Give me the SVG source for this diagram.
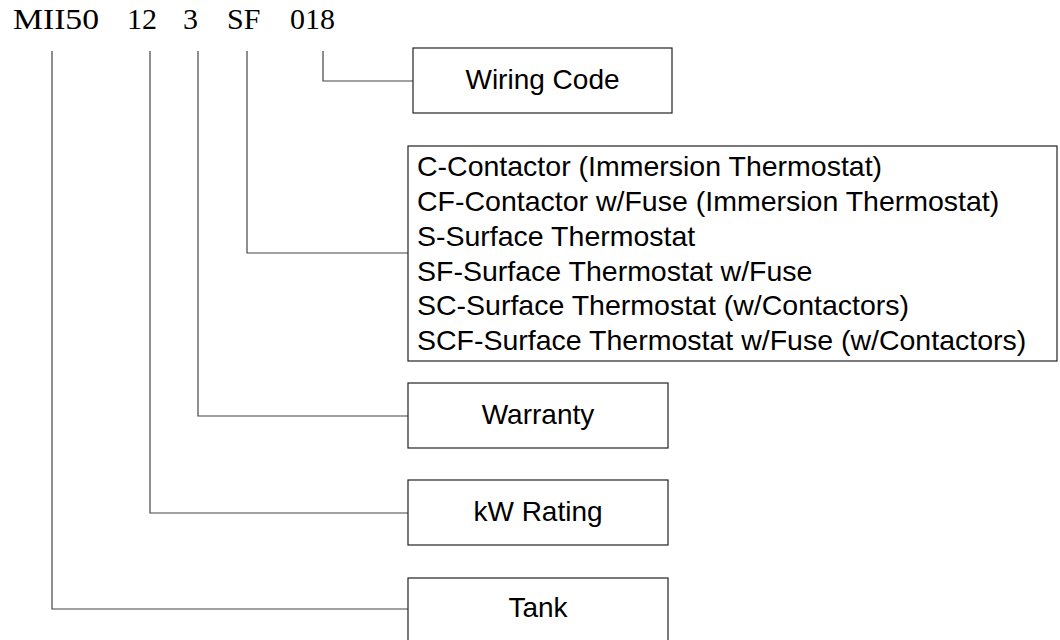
<svg xmlns="http://www.w3.org/2000/svg" width="1060" height="640" viewBox="0 0 1060 640">
  <style>
    .code { font-family: "Liberation Serif", "Times New Roman", serif; font-size: 30px; fill: #000; }
    .box { fill: #fff; stroke: #222; stroke-width: 1.2; }
    .lbl { font-family: "Liberation Sans", Arial, sans-serif; font-size: 28px; fill: #000; text-anchor: middle; }
    .item { font-family: "Liberation Sans", Arial, sans-serif; font-size: 28.5px; fill: #000; }
    .conn { fill: none; stroke: #444; stroke-width: 1.2; }
  </style>
  <rect width="1060" height="640" fill="#fff"/>
  <g id="code">
    <text class="code" x="13" y="29" textLength="86" lengthAdjust="spacingAndGlyphs">MII50</text>
    <text class="code" x="127" y="29">12</text>
    <text class="code" x="183" y="29">3</text>
    <text class="code" x="227" y="29">SF</text>
    <text class="code" x="290" y="29">018</text>
  </g>
  <g id="connectors">
    <polyline class="conn" points="323,51 323,81 413,81"/>
    <polyline class="conn" points="247,51 247,253 408,253"/>
    <polyline class="conn" points="198,51 198,416 408,416"/>
    <polyline class="conn" points="150,51 150,513 408,513"/>
    <polyline class="conn" points="52,51 52,609 408,609"/>
  </g>
  <g id="wiring">
    <rect class="box" x="413" y="48" width="259" height="65"/>
    <text class="lbl" x="542.5" y="89">Wiring Code</text>
  </g>
  <g id="control">
    <rect class="box" x="408" y="146" width="649" height="215"/>
    <text class="item" x="417" y="176">C-Contactor (Immersion Thermostat)</text>
    <text class="item" x="417" y="211">CF-Contactor w/Fuse (Immersion Thermostat)</text>
    <text class="item" x="417" y="246">S-Surface Thermostat</text>
    <text class="item" x="417" y="281">SF-Surface Thermostat w/Fuse</text>
    <text class="item" x="417" y="315">SC-Surface Thermostat (w/Contactors)</text>
    <text class="item" x="417" y="350">SCF-Surface Thermostat w/Fuse (w/Contactors)</text>
  </g>
  <g id="warranty">
    <rect class="box" x="408" y="383" width="260" height="65"/>
    <text class="lbl" x="538" y="424">Warranty</text>
  </g>
  <g id="kw">
    <rect class="box" x="408" y="480" width="260" height="65"/>
    <text class="lbl" x="538" y="521">kW Rating</text>
  </g>
  <g id="tank">
    <rect class="box" x="408" y="578" width="260" height="66"/>
    <text class="lbl" x="538" y="617">Tank</text>
  </g>
</svg>
